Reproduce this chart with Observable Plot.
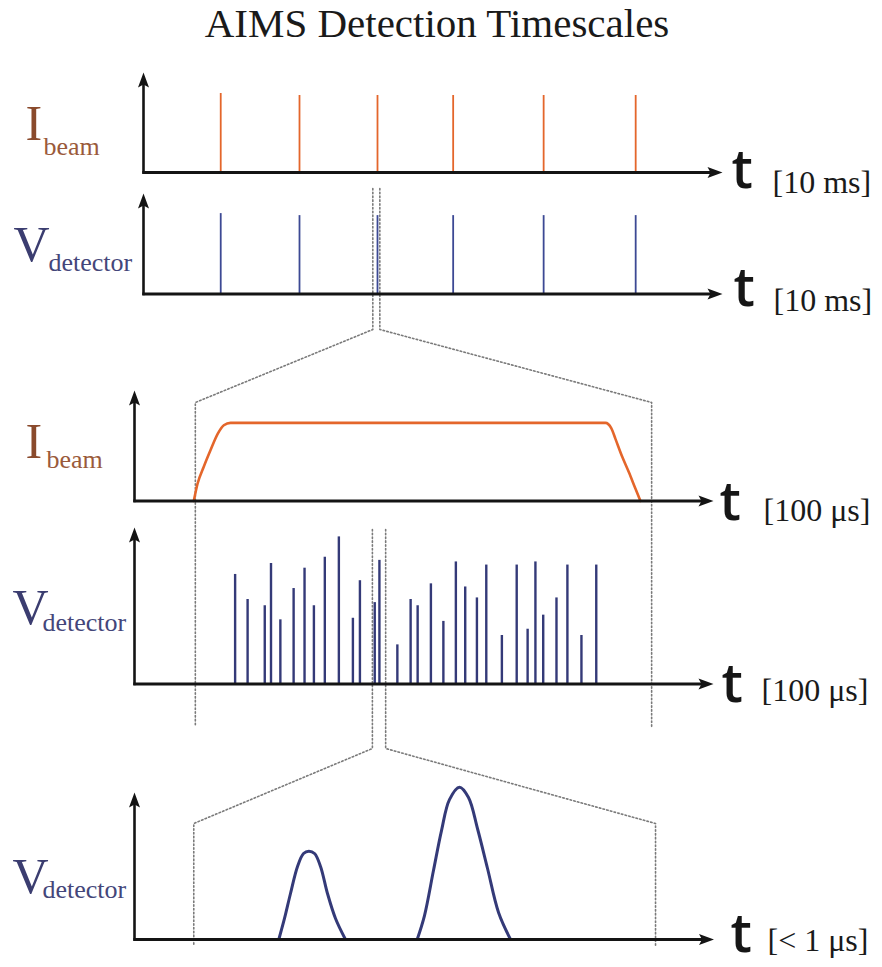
<!DOCTYPE html>
<html>
<head>
<meta charset="utf-8">
<script src="https://cdn.jsdelivr.net/npm/d3@7"></script>
<script src="https://cdn.jsdelivr.net/npm/@observablehq/plot@0.6"></script>
<style>
  html, body { margin: 0; padding: 0; background: #fff; }
  #title {
    width: 874px; height: 48px; line-height: 47px; overflow: visible;
    font-family: "Liberation Serif", "Times New Roman", serif;
    font-size: 41px; text-align: center; color: #1a1a1a;
  }
  #chart svg { display: block; }
</style>
</head>
<body>
<div id="title">AIMS Detection Timescales</div>
<div id="chart"></div>
<script>
// ---------------- DATA ----------------
// Top two panels: 10 ms scale
const pulseTimesMs   = [9.9, 20.0, 30.0, 39.7, 51.3, 63.1];
const beamPulseAmp   = [0.79, 0.77, 0.77, 0.77, 0.77, 0.77];
const detPulseAmp    = [0.80, 0.78, 0.78, 0.78, 0.78, 0.78];

// Panel 3: one beam pulse, 100 µs scale (time in µs, relative amplitude)
const beamShapeT = [76, 80.8, 88.8, 97.4, 106.8, 114.5, 123.1, 603.8, 611.2, 616.7, 625.3, 633.7, 642.3, 648.7];
const beamShapeA = [0, 0.156, 0.31, 0.459, 0.61, 0.686, 0.707, 0.707, 0.66, 0.56, 0.40, 0.262, 0.111, 0];

// Panel 4: detector hits during the pulse (time in µs, relative amplitude)
const hitTimesUs = [129, 145, 167, 175, 187, 204, 218, 230, 244, 262, 280, 289, 308, 314,
                    337, 354, 363, 380, 396, 412, 424, 439, 451, 471, 490, 504, 514, 524,
                    541, 555, 573, 592];
const hitAmps    = [0.70, 0.54, 0.50, 0.77, 0.41, 0.61, 0.74, 0.50, 0.81, 0.94, 0.42, 0.66, 0.52, 0.79,
                    0.25, 0.54, 0.50, 0.64, 0.40, 0.78, 0.62, 0.55, 0.76, 0.31, 0.76, 0.35, 0.78, 0.44,
                    0.55, 0.76, 0.31, 0.76];

// Panel 5: two detector pulses, < 1 µs scale (time in µs, relative amplitude)
const peak1T = [0.1850, 0.1923, 0.2000, 0.2090, 0.2167, 0.2235, 0.2308, 0.2385, 0.2474, 0.2577, 0.2705];
const peak1V = [0, 0.143, 0.313, 0.497, 0.585, 0.601, 0.585, 0.497, 0.313, 0.143, 0];
const peak2T = [0.3624, 0.3718, 0.3833, 0.3936, 0.4038, 0.4167, 0.4282, 0.4397, 0.4526, 0.4667, 0.4821];
const peak2V = [0, 0.163, 0.469, 0.741, 0.952, 1.036, 0.966, 0.755, 0.483, 0.184, 0];

// Zoom windows (data units of the source panel and of the target panel)
const zoomTopSrcMs  = [29.4, 30.3];
const zoomTopDstUs  = [78, 663];
const zoomMidSrcUs  = [305, 322];
const zoomMidDstUs  = [0.076, 0.668];

// Texts
const quantitySymbols = ["I", "V", "I", "V", "V"];
const quantitySubs    = ["beam", "detector", "beam", "detector", "detector"];
const unitLabels      = ["[10 ms]", "[10 ms]", "[100 \u03bcs]", "[100 \u03bcs]", "[< 1 \u03bcs]"];

// ---------------- LAYOUT (page pixels) ----------------
const TOP = 48, W = 882, H = 967 - TOP;
const P = [
  {ox:143, base:172.0, top:72,  end:722,   kx:7.8,  symX:25, symY:139, subX:43, subY:154, tX:731, tY:187, uX:772, uY:192},
  {ox:143, base:293.5, top:193, end:722,   kx:7.8,  symX:13, symY:260, subX:48, subY:270, tX:733, tY:305, uX:773, uY:310},
  {ox:134, base:500.5, top:390, end:713,   kx:0.78, symX:25, symY:457, subX:46, subY:467, tX:719, tY:519, uX:763, uY:520},
  {ox:134, base:683.5, top:527, end:713,   kx:0.78, symX:12, symY:623, subX:42, subY:630, tX:721, tY:701, uX:761, uY:700},
  {ox:134, base:939.0, top:792, end:713.5, kx:780,  symX:12, symY:892, subX:42, subY:897, tX:730, tY:951, uX:767, uY:950}
];
const px = (p, t) => p.ox + t * p.kx;
const py = (p, a) => p.base - a * (p.base - p.top);

const ORANGE = "#e4662b", BROWN = "#8a4a2c", BROWN2 = "#9a5a3a";
const BLUE = "#3c4994", NAVY = "#343a78", LABELBLUE = "#3b3d70";
const SERIF = "Liberation Serif, Times New Roman, serif";

// arrowhead symbols (tip at the origin)
const arrowUp = {draw(ctx, size) { const s = Math.sqrt(size / Math.PI);
  ctx.moveTo(0, 0); ctx.lineTo(5.5 * s, 15 * s); ctx.lineTo(0, 12 * s); ctx.lineTo(-5.5 * s, 15 * s); ctx.closePath(); }};
const arrowRight = {draw(ctx, size) { const s = Math.sqrt(size / Math.PI);
  ctx.moveTo(0, 0); ctx.lineTo(-15 * s, -5.5 * s); ctx.lineTo(-12 * s, 0); ctx.lineTo(-15 * s, 5.5 * s); ctx.closePath(); }};

// ---------------- build mark data ----------------
const axesV = P.map(p => ({x1: p.ox, y1: p.base + 1.2, x2: p.ox, y2: p.top + 10}));
const axesH = P.map(p => ({x1: p.ox - 1.2, y1: p.base, x2: p.end - 10, y2: p.base}));
const tipsUp = P.map(p => ({x: p.ox, y: p.top}));
const tipsRight = P.map(p => ({x: p.end, y: p.base}));

const spikes1 = pulseTimesMs.map((t, i) => ({t, a: beamPulseAmp[i]}));
const spikes2 = pulseTimesMs.map((t, i) => ({t, a: detPulseAmp[i]}));
const beam = beamShapeT.map((t, i) => ({t, a: beamShapeA[i]}));
const hits = hitTimesUs.map((t, i) => ({t, a: hitAmps[i]}));
const peak1 = peak1T.map((t, i) => ({t, a: peak1V[i]}));
const peak2 = peak2T.map((t, i) => ({t, a: peak2V[i]}));

// zoom connectors
function connector(src, srcWin, dst, dstWin, yStart, yBend, yTarget, yEnd) {
  return [0, 1].map(k => [
    {x: px(src, srcWin[k]), y: yStart},
    {x: px(src, srcWin[k]), y: yBend},
    {x: px(dst, dstWin[k]), y: yTarget},
    {x: px(dst, dstWin[k]), y: yEnd}
  ]);
}
const conn = [
  ...connector(P[1], zoomTopSrcMs, P[2], zoomTopDstUs, 188, 329, 402, 726),
  ...connector(P[3], zoomMidSrcUs, P[4], zoomMidDstUs, 529, 748, 823, 946)
];

const symLabels = P.map((p, i) => ({x: p.symX, y: p.symY, text: quantitySymbols[i], fill: quantitySymbols[i] === "I" ? BROWN : LABELBLUE}));
const subLabels = P.map((p, i) => ({x: p.subX, y: p.subY, text: quantitySubs[i], fill: quantitySymbols[i] === "I" ? BROWN2 : "#44467a"}));
const tLabels = P.map(p => ({x: p.tX, y: p.tY, text: "t"}));
const uLabels = P.map((p, i) => ({x: p.uX, y: p.uY, text: unitLabels[i]}));

const marks = [
  // dotted zoom connectors (behind)
  ...conn.map(c => Plot.line(c, {x: "x", y: "y", stroke: "#7a7a7a", strokeWidth: 1.6, strokeDasharray: "1.5 2.3", curve: "linear"})),
  // data
  Plot.ruleX(spikes1, {x: d => px(P[0], d.t), y1: () => P[0].base, y2: d => py(P[0], d.a), stroke: ORANGE, strokeWidth: 1.8}),
  Plot.ruleX(spikes2, {x: d => px(P[1], d.t), y1: () => P[1].base, y2: d => py(P[1], d.a), stroke: BLUE, strokeWidth: 1.8}),
  Plot.line(beam, {x: d => px(P[2], d.t), y: d => py(P[2], d.a), stroke: ORANGE, strokeWidth: 2.6, curve: "monotone-x"}),
  Plot.ruleX(hits, {x: d => px(P[3], d.t), y1: () => P[3].base, y2: d => py(P[3], d.a), stroke: NAVY, strokeWidth: 2.4}),
  Plot.line(peak1, {x: d => px(P[4], d.t), y: d => py(P[4], d.a), stroke: NAVY, strokeWidth: 3, curve: "catmull-rom"}),
  Plot.line(peak2, {x: d => px(P[4], d.t), y: d => py(P[4], d.a), stroke: NAVY, strokeWidth: 3, curve: "catmull-rom"}),
  // axes
  Plot.link(axesV, {x1: "x1", y1: "y1", x2: "x2", y2: "y2", stroke: "#141414", strokeWidth: 2.6}),
  Plot.link(axesH, {x1: "x1", y1: "y1", x2: "x2", y2: "y2", stroke: "#141414", strokeWidth: 2.8}),
  Plot.dot(tipsUp, {x: "x", y: "y", r: 1, symbol: arrowUp, fill: "#141414", stroke: "none"}),
  Plot.dot(tipsRight, {x: "x", y: "y", r: 1, symbol: arrowRight, fill: "#141414", stroke: "none"}),
  // labels
  Plot.text(symLabels, {x: "x", y: "y", text: "text", fill: "fill", fontSize: 50, fontFamily: SERIF, textAnchor: "start", lineAnchor: "bottom"}),
  Plot.text(subLabels, {x: "x", y: "y", text: "text", fill: "fill", fontSize: 26, fontFamily: SERIF, textAnchor: "start", lineAnchor: "bottom"}),
  Plot.text(tLabels, {x: "x", y: "y", text: "text", fill: "#161616", fontSize: 54, fontWeight: 600, fontFamily: "Open Sans, DejaVu Sans, sans-serif", textAnchor: "start", lineAnchor: "bottom"}),
  Plot.text(uLabels, {x: "x", y: "y", text: "text", fill: "#1a1a1a", fontSize: 32, fontFamily: SERIF, textAnchor: "start", lineAnchor: "bottom"})
];

const chart = Plot.plot({
  width: W, height: H,
  marginTop: 0, marginRight: 0, marginBottom: 0, marginLeft: 0,
  x: {type: "linear", domain: [0, W], range: [0, W], axis: null},
  y: {type: "linear", domain: [TOP, TOP + H], range: [0, H], axis: null},
  style: {background: "#fff", overflow: "visible"},
  marks
});
document.getElementById("chart").appendChild(chart);
</script>
</body>
</html>
